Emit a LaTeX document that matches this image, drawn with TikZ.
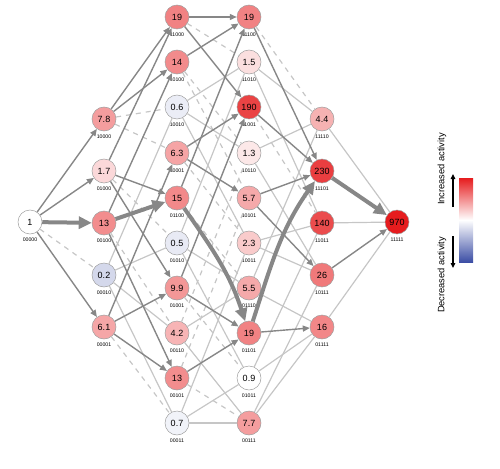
\documentclass[tikz,border=0pt]{standalone}
\usepackage{fontspec}
\setmainfont{Liberation Sans}
\usetikzlibrary{arrows.meta}

\definecolor{actred}{RGB}{230,28,30}
\definecolor{actblue}{RGB}{60,78,165}
\definecolor{darkedge}{RGB}{135,135,135}
\definecolor{lightedge}{RGB}{198,198,198}

\tikzset{
  geno/.style={circle, draw=gray!75, line width=0.5pt, minimum size=24pt, inner sep=0pt,
    font=\fontsize{9}{10}\selectfont},
  code/.style={font=\fontsize{5.2}{5.5}\selectfont, inner sep=0pt, label distance=3pt},
  risearrow/.style={draw=darkedge, line width=1.4pt, -{Triangle[length=7pt,width=6pt]}},
  flatline/.style={draw=lightedge, line width=1.2pt},
  dropline/.style={draw=lightedge, line width=1.2pt, dash pattern=on 5pt off 5pt},
  mainarrow/.style={draw=darkedge, line width=4pt, -{Triangle[length=13pt,width=12pt]}},
  bartext/.style={rotate=90, font=\fontsize{9.3}{10}\selectfont},
}

\begin{document}
\begin{tikzpicture}[x=1pt,y=-1pt]
\useasboundingbox (0,0) rectangle (500,468);

% genotypes, one column per number of mutations
\foreach \g/\x/\y/\v/\c in {
    00000/30/222/1/white,
    10000/104/119/7.8/actred!43, 01000/104/171/1.7/actred!17, 00100/104/223/13/actred!50,
    00010/104/275/0.2/actblue!22, 00001/104/327/6.1/actred!39,
    11000/177/17/19/actred!55, 10100/177/62/14/actred!51, 10010/177/107/0.6/actblue!10,
    10001/177/153/6.3/actred!40, 01100/177/198/15/actred!52, 01010/177/243/0.5/actblue!12,
    01001/177/288/9.9/actred!46, 00110/177/333/4.2/actred!33, 00101/177/378/13/actred!50,
    00011/177/423/0.7/actblue!7,
    11100/249/17/19/actred!55, 11010/249/62/1.5/actred!14, 11001/249/107/190/actred!83,
    10110/249/153/1.3/actred!10, 10101/249/198/5.7/actred!38, 10011/249/243/2.3/actred!23,
    01110/249/288/5.5/actred!38, 01101/249/333/19/actred!55, 01011/249/378/0.9/white,
    00111/249/423/7.7/actred!43,
    11110/322/119/4.4/actred!34, 11101/322/171/230/actred!85, 11011/322/223/140/actred!79,
    10111/322/275/26/actred!59, 01111/322/327/16/actred!53,
    11111/397/222/970/actred}
  \node[geno, fill=\c, label={[code]below:\g}] (g\g) at (\x,\y) {\v};

% steps without clear change
\foreach \a/\b in {00010/10010, 00010/01010, 00010/00110, 00010/00011,
    10010/11010, 10010/10110, 10010/10011, 01010/11010, 01010/01110, 01010/01011,
    00110/01110, 00110/00111, 00011/10011, 00011/01011, 00011/00111,
    11010/11110, 11010/11011, 10110/11110, 10110/10111, 10011/11011, 10011/10111,
    01110/11110, 01110/01111, 01011/11011, 01011/01111, 00111/10111, 00111/01111,
    11110/11111, 11011/11111, 01111/11111}
  \draw[flatline] (g\a) -- (g\b);

% steps that lower activity
\foreach \a/\b in {00000/00010, 10000/10010, 10000/10001, 01000/01010, 00100/00110,
    00001/00011, 11000/11010, 10100/10110, 10100/10101, 10001/10011, 01100/01110,
    01001/01011, 00110/10110, 00101/10101, 00101/00111, 11100/11110, 11001/11011}
  \draw[dropline] (g\a) -- (g\b);

% steps that raise activity
\foreach \a/\b in {00000/10000, 00000/01000, 00000/00001,
    10000/11000, 10000/10100, 01000/11000, 01000/01100, 01000/01001,
    00100/10100, 00100/00101, 00001/10001, 00001/01001, 00001/00101,
    11000/11100, 11000/11001, 10100/11100, 10001/11001, 10001/10101,
    01100/11100, 01001/11001, 01001/01101, 00101/01101,
    11100/11101, 11001/11101, 10101/11101, 10101/10111, 01101/01111,
    10111/11111}
  \draw[risearrow] (g\a) -- (g\b);

% most likely path
\draw[mainarrow] (g00000) -- (g00100);
\draw[mainarrow] (g00100) -- (g01100);
\draw[mainarrow] (g01100) to[out=-55,in=108] (g01101);
\draw[mainarrow] (g01101) to[out=72,in=-125] (g11101);
\draw[mainarrow] (g11101) -- (g11111);

% colour key
\shade[top color=actred, bottom color=actblue, middle color=white] (459,178) rectangle (473,262);
\coordinate (uptail) at (453,207);
\coordinate (uptip) at (453,174);
\coordinate (downtail) at (453,236);
\coordinate (downtip) at (453,268);
\draw[line width=1.2pt, -{Triangle[length=5pt,width=4.5pt]}] (uptail) -- (uptip);
\draw[line width=1.2pt, -{Triangle[length=5pt,width=4.5pt]}] (downtail) -- (downtip);
\node[bartext] (inclabel) at (442,169) {Increased activity};
\node[bartext] (declabel) at (442,275) {Decreased activity};
\end{tikzpicture}
\end{document}
